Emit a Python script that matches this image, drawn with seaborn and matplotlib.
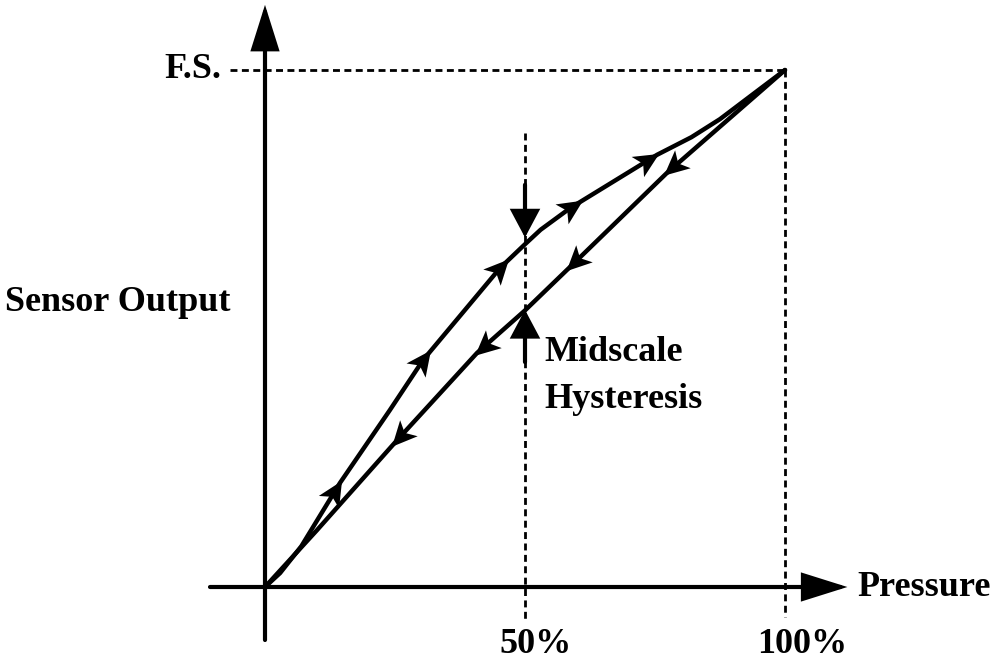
import matplotlib
matplotlib.use("Agg")
import matplotlib.pyplot as plt
import numpy as np
import seaborn as sns
from matplotlib.markers import MarkerStyle
from matplotlib.path import Path
from matplotlib.transforms import Affine2D

# pressure (% of range) vs sensor output (% of full scale)
rising_x = [0, 2.9, 7.0, 14.4, 24.0, 30.4, 45.2, 50.0, 53.0, 58.7, 75.4, 82.0, 87.5, 100]
rising_y = [0, 2.7, 7.9, 20.1, 34.2, 43.9, 61.7, 66.3, 69.1, 73.3, 83.6, 87.0, 90.5, 100]
falling_x = [100, 77.3, 60.0, 50.0, 40.8, 25.4, 10.0, 0]
falling_y = [100, 80.1, 63.2, 53.5, 45.3, 28.4, 11.0, 0]

# where the direction arrows sit on each branch (pressure %)
rising_arrows = [13.5, 30.4, 45.2, 59.0, 73.7]
falling_arrows = [78.5, 59.6, 42.1, 26.0]

tick_labels = ["50%", "100%"]
tick_pos = [50, 100]

# pixel scale: 1% pressure = 5.2 px, 1% output = 5.17 px, origin at (265, 587)
XLIM = (-265 / 5.2, 735 / 5.2)
YLIM = (-78 / 5.17, 587 / 5.17)
SX, SY = 5.2, 5.17

STEALTH = Path(
    [(1, 0), (-1, 0.95), (-0.5, 0), (-1, -0.95), (1, 0)],
    [Path.MOVETO, Path.LINETO, Path.LINETO, Path.LINETO, Path.CLOSEPOLY],
)


def branch_arrows(ax, xs, ys, positions, forward):
    xs_s, ys_s = np.array(xs), np.array(ys)
    order = np.argsort(xs_s)
    xs_s, ys_s = xs_s[order], ys_s[order]
    for p in positions:
        y = np.interp(p, xs_s, ys_s)
        dy = np.interp(p + 1, xs_s, ys_s) - np.interp(p - 1, xs_s, ys_s)
        ang = np.degrees(np.arctan2(dy * SY, 2 * SX))
        if not forward:
            ang += 180
        m = MarkerStyle(STEALTH, transform=Affine2D().rotate_deg(ang))
        ax.plot([p], [y], marker=m, markersize=18, color="black", markeredgewidth=0, zorder=5)


def arrow(ax, start, tip, lw, hl, hw):
    ax.annotate(
        "", xy=tip, xytext=start,
        arrowprops=dict(arrowstyle=f"-|>,head_length={hl},head_width={hw}", lw=lw,
                        color="black", shrinkA=0, shrinkB=0, mutation_scale=1,
                        joinstyle="miter"),
        zorder=4,
    )


sns.set_style("white")
fig = plt.figure(figsize=(10, 6.65), dpi=100)
ax = fig.add_axes([0, 0, 1, 1])
ax.set_xlim(*XLIM)
ax.set_ylim(*YLIM)
ax.set_axis_off()

dash = dict(color="black", lw=2, linestyle=(0, (2.5, 1.6)), zorder=1)
ax.plot([-6.7, 100], [100, 100], **dash)
ax.plot([100, 100], [100, -5.8], **dash)
ax.plot([50, 50], [87.8, -6.4], **dash)

# axes as arrows
ax.plot([-10.6, 0], [0, 0], color="black", lw=3, solid_capstyle="round")
ax.plot([0, 0], [-10.25, 0], color="black", lw=3, solid_capstyle="round")
arrow(ax, (0, 0), (112.0, 0), 3, 27, 8.5)
arrow(ax, (0, 0), (0, 112.6), 3, 27, 8.5)

sns.lineplot(x=rising_x, y=rising_y, sort=False, estimator=None, color="black",
             lw=3.2, ax=ax, zorder=3, solid_joinstyle="round")
sns.lineplot(x=falling_x, y=falling_y, sort=False, estimator=None, color="black",
             lw=3.2, ax=ax, zorder=3, solid_joinstyle="round")
branch_arrows(ax, rising_x, rising_y, rising_arrows, True)
branch_arrows(ax, falling_x, falling_y, falling_arrows, False)

# midscale hysteresis markers
arrow(ax, (50, 77.8), (50, 67.6), 3, 16, 8.5)
arrow(ax, (50, 43.5), (50, 53.6), 3, 16, 8.5)

font = dict(family=["Liberation Serif", "DejaVu Serif"], fontweight="bold", fontsize=26,
            color="black")
ax.text(-8.3, 100, "F.S.", ha="right", va="center", **font)
ax.text(114.0, 0, "Pressure", ha="left", va="center", **font)
ax.text(-50.0, 55.1, "Sensor Output", ha="left", va="center", **font)
ax.text(53.8, 45.3, "Midscale", ha="left", va="center", **font)
ax.text(53.8, 36.2, "Hysteresis", ha="left", va="center", **font)
for pos, lab, off in zip(tick_pos, tick_labels, [2.1, 3.3]):
    ax.text(pos + off, -11.2, lab, ha="center", va="center", **font)

fig.savefig("out.png", dpi=100)
